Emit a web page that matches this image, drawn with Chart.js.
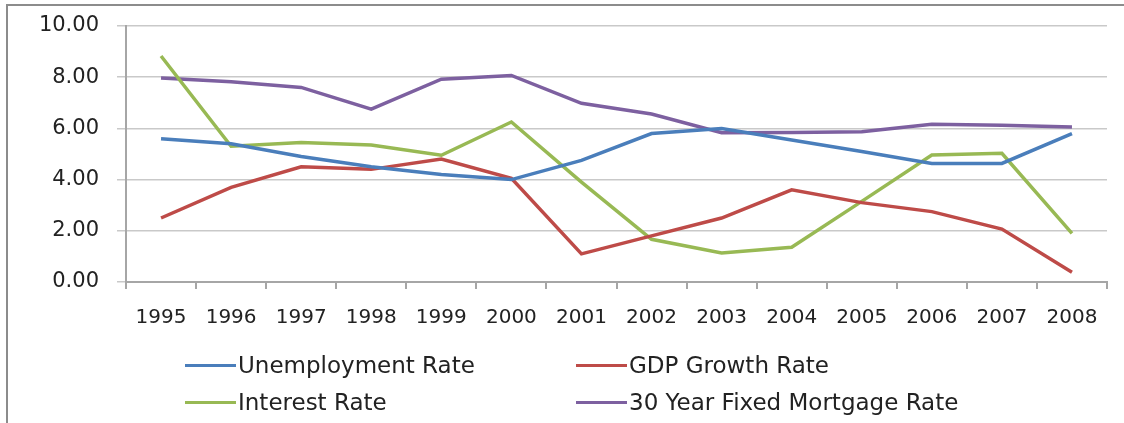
<!DOCTYPE html>
<html>
<head>
<meta charset="utf-8">
<script src="https://cdn.jsdelivr.net/npm/chart.js@4"></script>
<style>
    html, body { margin: 0; padding: 0; background: #fff; overflow: hidden; }
    #wrap { position: relative; width: 1124px; height: 423px; overflow: hidden; }
    #myChart { display: block; }
    .edge { position: absolute; background: #8c8c8c; }
    #legend { position: absolute; left: 0; top: 0; font-family: "DejaVu Sans", sans-serif;
              font-size: 23px; color: #222; }
    .item { position: absolute; display: flex; align-items: center; white-space: nowrap; }
    .swatch { width: 51px; height: 3px; margin-right: 2px; }
</style>
</head>
<body>
<div id="wrap">
    <canvas id="myChart" width="1124" height="423"></canvas>
    <div class="edge" style="left:6px;top:4px;width:1118px;height:2px"></div>
    <div class="edge" style="left:6px;top:4px;width:2px;height:419px"></div>
    <div id="legend"></div>
</div>
<script>
const years = ['1995', '1996', '1997', '1998', '1999', '2000', '2001', '2002', '2003', '2004', '2005', '2006', '2007', '2008'];
const unemployment = [5.6, 5.4, 4.9, 4.5, 4.2, 4.0, 4.75, 5.8, 6.0, 5.55, 5.1, 4.63, 4.63, 5.8];
const gdpGrowth = [2.5, 3.7, 4.5, 4.4, 4.8, 4.05, 1.1, 1.8, 2.5, 3.6, 3.1, 2.75, 2.07, 0.38];
const interest = [8.83, 5.3, 5.45, 5.35, 4.95, 6.25, 3.9, 1.67, 1.13, 1.36, 3.15, 4.96, 5.03, 1.9];
const mortgage = [7.97, 7.82, 7.6, 6.75, 7.92, 8.07, 6.98, 6.56, 5.83, 5.84, 5.87, 6.16, 6.12, 6.05];
const yTicks = [0, 2, 4, 6, 8, 10];

function CreateChart() {
    const ctx = document.getElementById('myChart');
    const line = (label, data, color) => ({
        label: label,
        data: data,
        borderColor: color,
        backgroundColor: color,
        borderWidth: 3.5,
        pointRadius: 0,
        tension: 0
    });

    return new Chart(ctx, {
        type: 'line',
        data: {
            labels: years,
            datasets: [
                line('Unemployment Rate', unemployment, '#4a7ebb'),
                line('GDP Growth Rate', gdpGrowth, '#be4b48'),
                line('Interest Rate', interest, '#98b954'),
                line('30 Year Fixed Mortgage Rate', mortgage, '#7d60a0')
            ]
        },
        options: {
            responsive: false,
            animation: false,
            layout: {
                padding: { left: 0, top: 26, right: 17, bottom: 91 }
            },
            scales: {
                y: {
                    min: 0,
                    max: 10,
                    afterFit: function (scale) {
                        scale.width = 126;
                        // the tick padding would otherwise push the plot top down
                        scale.paddingTop = 0;
                        scale.paddingBottom = 0;
                    },
                    afterBuildTicks: function (scale) {
                        scale.ticks = yTicks.map(v => ({ value: v }));
                    },
                    border: { color: '#a6a6a6', width: 2 },
                    grid: { color: '#c9c9c9', lineWidth: 1.5, tickLength: 9 },
                    ticks: {
                        padding: 18,
                        color: '#222',
                        font: { family: 'DejaVu Sans', size: 21 },
                        callback: v => Number(v).toFixed(2)
                    }
                },
                x: {
                    offset: true,
                    afterFit: function (scale) { scale.height = 50; },
                    border: { color: '#a6a6a6', width: 2 },
                    grid: {
                        offset: true,
                        drawOnChartArea: false,
                        color: '#a6a6a6',
                        lineWidth: 2,
                        tickLength: 7
                    },
                    ticks: {
                        padding: 17,
                        maxRotation: 0,
                        color: '#222',
                        font: { family: 'DejaVu Sans', size: 20 }
                    }
                }
            },
            plugins: {
                legend: { display: false },
                tooltip: { enabled: false }
            }
        }
    });
}

function BuildLegend(chart) {
    const legend = document.getElementById('legend');
    const spots = [[185, 365], [576, 365], [185, 402], [576, 402]];
    chart.data.datasets.forEach((ds, i) => {
        const item = document.createElement('div');
        item.className = 'item';
        item.style.left = spots[i][0] + 'px';
        item.style.top = (spots[i][1] - 14) + 'px';
        item.style.height = '28px';
        const sw = document.createElement('span');
        sw.className = 'swatch';
        sw.style.background = ds.borderColor;
        const txt = document.createElement('span');
        txt.textContent = ds.label;
        item.appendChild(sw);
        item.appendChild(txt);
        legend.appendChild(item);
    });
}

BuildLegend(CreateChart());
</script>
</body>
</html>
